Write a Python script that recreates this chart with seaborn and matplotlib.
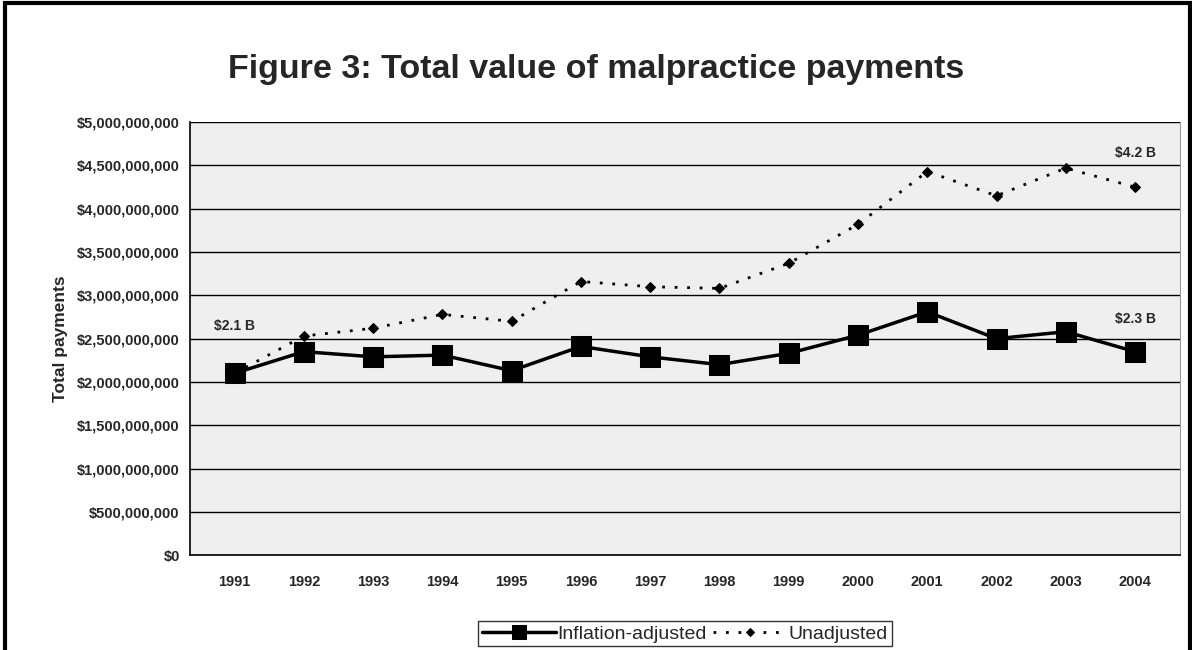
import matplotlib
matplotlib.use('Agg')
import matplotlib.pyplot as plt
import matplotlib.ticker as mticker
import seaborn as sns
import pandas as pd

# ========== dados ==========
years = list(range(1991, 2005))
inflation_adjusted = [2.10, 2.35, 2.29, 2.31, 2.13, 2.41, 2.29, 2.20, 2.33, 2.54, 2.81, 2.50, 2.58, 2.35]
unadjusted = [2.10, 2.53, 2.62, 2.78, 2.70, 3.16, 3.10, 3.08, 3.37, 3.82, 4.43, 4.15, 4.47, 4.25]

df = pd.DataFrame({
    'year': years,
    'Inflation-adjusted': [v * 1e9 for v in inflation_adjusted],
    'Unadjusted': [v * 1e9 for v in unadjusted],
})

sns.set_style('white')
plt.rcParams['font.family'] = ['Liberation Sans', 'DejaVu Sans']

fig = plt.figure(figsize=(11.92, 6.5), dpi=100)
ax = fig.add_axes([0.159, 0.146, 0.831, 0.666])
ax.set_facecolor('#efefef')

# ========== linhas ==========
sns.lineplot(data=df, x='year', y='Inflation-adjusted', ax=ax, color='black',
             linewidth=2.5, marker='s', markersize=14, markeredgecolor='black',
             label='Inflation-adjusted', zorder=3)
sns.lineplot(data=df, x='year', y='Unadjusted', ax=ax, color='black',
             linewidth=2, linestyle=(0, (1, 3.5)), marker='D', markersize=5.5,
             markeredgecolor='black', label='Unadjusted', zorder=3)

ax.set_xlim(1990.35, 2004.65)
ax.set_ylim(0, 5e9)
ax.set_xticks(years)
ax.set_xticklabels([str(y) for y in years], fontsize=10.5, fontweight='bold')
ax.yaxis.set_major_locator(mticker.MultipleLocator(5e8))
ax.yaxis.set_major_formatter(mticker.FuncFormatter(lambda v, p: f'${v:,.0f}'))
for lbl in ax.get_yticklabels():
    lbl.set_fontsize(10.5)
    lbl.set_fontweight('bold')
ax.tick_params(axis='y', length=4, color='black', pad=3)
ax.tick_params(axis='x', length=0, pad=14)

ax.grid(axis='y', color='black', linewidth=1)
ax.set_axisbelow(True)
for s in ['left', 'bottom']:
    ax.spines[s].set_color('black')
    ax.spines[s].set_linewidth(1.2)
ax.spines['top'].set_visible(False)
ax.spines['right'].set_color('#999999')
ax.spines['right'].set_linewidth(0.8)

ax.set_xlabel('')
ax.set_ylabel('Total payments', fontsize=12.5, fontweight='bold', labelpad=6)

# ========== anotações ==========
ax.text(1991, 2.56e9, '$2.1 B', fontsize=10, fontweight='bold', ha='center', va='bottom')
ax.text(2004, 4.64e9, '$4.2 B', fontsize=10, fontweight='bold', ha='center', va='center')
ax.text(2004, 2.73e9, '$2.3 B', fontsize=10, fontweight='bold', ha='center', va='center')

fig.text(0.5, 0.893, 'Figure 3: Total value of malpractice payments',
         ha='center', va='center', fontsize=24.5, fontweight='bold')

leg = ax.legend(loc='upper center', bbox_to_anchor=(0.5, -0.13), ncol=2,
                frameon=True, fontsize=14, handlelength=3.8, columnspacing=0.3,
                handletextpad=0.1, borderpad=0.2, fancybox=False, markerscale=0.75)
leg.get_frame().set_edgecolor('black')
leg.get_frame().set_linewidth(1)

# moldura da figura
fig.patches.append(plt.Rectangle((0.004, -0.01), 0.994, 1.005, transform=fig.transFigure,
                                 fill=False, edgecolor='black', linewidth=3))

fig.savefig('out.png', dpi=100, facecolor='white')
